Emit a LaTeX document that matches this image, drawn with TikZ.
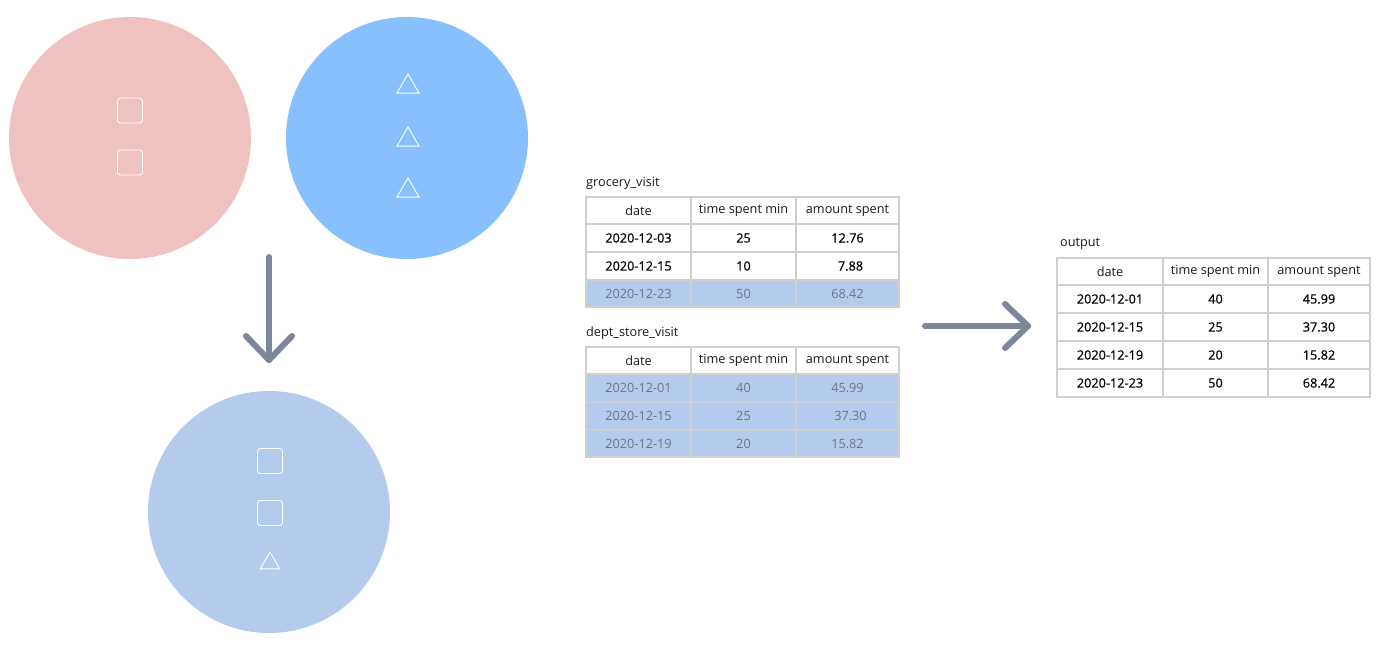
\documentclass[tikz,border=0pt]{standalone}
\usepackage{fontspec}
\setmainfont{Open Sans}
\newfontfamily\semib[FakeBold=0.5]{Open Sans}
\usetikzlibrary{shapes.geometric}
\definecolor{pinkc}{HTML}{F0C1C1}
\definecolor{bluec}{HTML}{88C0FE}
\definecolor{unionc}{HTML}{B4CBEE}
\definecolor{arrowc}{HTML}{7E8799}
\definecolor{gridc}{HTML}{CFCFCF}
\definecolor{dimtext}{HTML}{6F7582}
\definecolor{headtext}{HTML}{1A1A1A}
\tikzset{
  blob/.style={circle, minimum size=242pt, inner sep=0pt},
  sq/.style={draw=white, line width=0.9pt, rounded corners=3pt, minimum size=25pt, inner sep=0pt},
  tri/.style={draw=white, line width=0.9pt, regular polygon, regular polygon sides=3, minimum size=25.5pt, inner sep=0pt},
  trismall/.style={tri, minimum size=22.5pt},
  bigarrow/.style={draw=arrowc, line width=6pt, line cap=round, line join=round},
  cell/.style={draw=gridc, line width=0.6pt, anchor=north west, minimum height=27.4pt, inner sep=0pt, font=\fontsize{12.7}{14}\selectfont},
  hcell/.style={cell, text=headtext},
  bcell/.style={cell, text=black, font=\fontsize{12.7}{14}\selectfont\semib},
  dcell/.style={cell, fill=unionc, text=dimtext},
  frame/.style={draw=gridc, line width=1.4pt},
  ttl/.style={anchor=west, inner sep=0pt, font=\fontsize{12.7}{14}\selectfont, text=headtext},
}
% #1 prefix, #2 x, #3 y, #4 style, #5 #6 #7 texts; widths from \wa \wb \wc
\newcommand{\trow}[7]{%
  \node[#4, minimum width=\wa] (#1a) at (#2,#3) {#5};
  \node[#4, minimum width=\wb] (#1b) at (#1a.north east) {#6};
  \node[#4, minimum width=\wc] (#1c) at (#1b.north east) {#7};
}
\begin{document}
\begin{tikzpicture}[x=1pt,y=-1pt]
\useasboundingbox (0,0) rectangle (1400,648);
% circles
\node[blob, fill=pinkc] (pink) at (130,138) {};
\node[blob, fill=bluec] (blue) at (407,138) {};
\node[blob, fill=unionc] (union) at (269,512) {};
% symbols
\node[sq] (p1) at (130,110.5) {};
\node[sq] (p2) at (130,162.5) {};
\node[tri] (b1) at (408,86.7) {};
\node[tri] (b2) at (408,139.7) {};
\node[tri] (b3) at (408,190.7) {};
\node[sq] (u1) at (270,461) {};
\node[sq] (u2) at (270,513) {};
\node[trismall] (u3) at (270,563.3) {};
% down arrow
\coordinate (dtop) at (269,257);
\coordinate (dtip) at (269,360);
\draw[bigarrow] (dtop) -- (dtip);
\draw[bigarrow] ([xshift=-23pt,yshift=24pt]dtip) -- (dtip) -- ([xshift=23pt,yshift=24pt]dtip);
% grocery table
\def\wa{104.4pt}\def\wb{104.4pt}\def\wc{102.4pt}
\node[ttl] (gtitle) at (586,183) {grocery\_visit};
\trow{gh}{586}{197}{hcell, minimum height=26.4pt}{date}{time spent min}{amount spent}
\trow{gr1}{586}{224}{bcell}{2020-12-03}{25}{12.76}
\trow{gr2}{586}{252}{bcell}{2020-12-15}{10}{\hspace{6pt}7.88}
\trow{gr3}{586}{280}{dcell, minimum height=26.4pt}{2020-12-23}{50}{68.42}
\draw[frame] (gha.north west) rectangle (gr3c.south east);
% dept store table
\node[ttl] (dtitle) at (586,333) {dept\_store\_visit};
\trow{dh}{586}{347}{hcell, minimum height=26.4pt}{date}{time spent min}{amount spent}
\trow{dr1}{586}{374}{dcell}{2020-12-01}{40}{45.99}
\trow{dr2}{586}{402}{dcell}{2020-12-15}{25}{\hspace{6pt}37.30}
\trow{dr3}{586}{430}{dcell, minimum height=26.4pt}{2020-12-19}{20}{15.82}
\draw[frame] (dha.north west) rectangle (dr3c.south east);
% right arrow
\coordinate (rstart) at (925,326);
\coordinate (rtip) at (1028,326);
\draw[bigarrow] (rstart) -- (rtip);
\draw[bigarrow] ([xshift=-23pt,yshift=-22pt]rtip) -- (rtip) -- ([xshift=-23pt,yshift=22pt]rtip);
% output table
\def\wa{105.4pt}\def\wb{104.4pt}\def\wc{101.4pt}
\node[ttl] (otitle) at (1060,244) {output};
\trow{oh}{1057}{258}{hcell, minimum height=26.4pt}{date}{time spent min}{amount spent}
\trow{or1}{1057}{285}{bcell}{2020-12-01}{40}{45.99}
\trow{or2}{1057}{313}{bcell}{2020-12-15}{25}{37.30}
\trow{or3}{1057}{341}{bcell}{2020-12-19}{20}{15.82}
\trow{or4}{1057}{369}{bcell}{2020-12-23}{50}{68.42}
\draw[frame] (oha.north west) rectangle (or4c.south east);
\end{tikzpicture}
\end{document}
